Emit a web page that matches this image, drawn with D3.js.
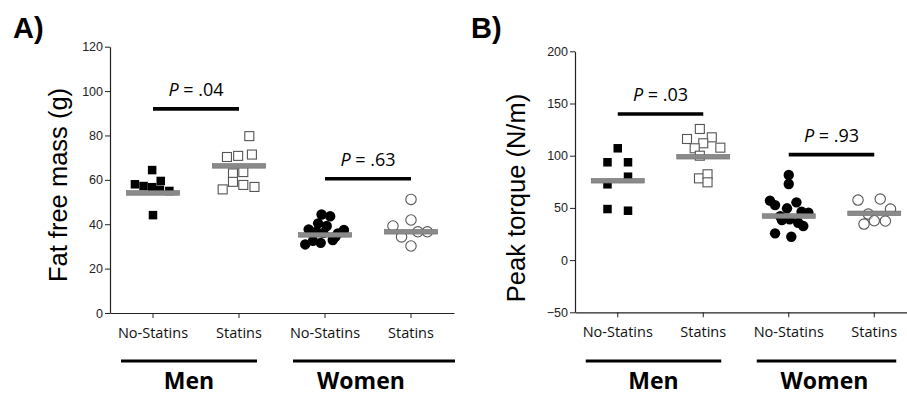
<!DOCTYPE html>
<html>
<head>
<meta charset="utf-8">
<script src="https://cdn.jsdelivr.net/npm/d3@7"></script>
<style>
  body { margin: 0; background: #fff; }
  svg { display: block; }
  .tick-num { font-family: "Liberation Sans", Arial, sans-serif; font-size: 12.5px; fill: #222; }
  .cat { font-family: "Open Sans", sans-serif; font-size: 14.5px; fill: #111; }
  .grp { font-family: "Open Sans", sans-serif; font-size: 23px; font-weight: bold; fill: #000; }
  .ylab { font-family: "Liberation Sans", Arial, sans-serif; font-size: 25.5px; fill: #000; }
  .pval { font-family: "Open Sans", sans-serif; font-size: 18px; fill: #000; }
  .panel { font-family: "Liberation Sans", Arial, sans-serif; font-size: 29px; font-weight: bold; fill: #000; }
</style>
</head>
<body>
<svg id="chart" width="907" height="397"></svg>
<script>
// categories (keys) and their labels
const catKeys = ['menNo', 'menSt', 'womNo', 'womSt'];
const catLabels = ['No-Statins', 'Statins', 'No-Statins', 'Statins'];
const sexGroups = ['Men', 'Women'];

// Panel A: fat free mass (g); each point is [value, jitter as fraction of band]
const ffmMenNo = [[64.4, -0.01], [58.0, -0.21], [57.2, -0.11], [56.7, -0.01], [59.5, 0.09], [55.0, 0.19], [44.1, 0], [55.5, 0.08]];
const ffmMenSt = [[70.3, -0.14], [70.8, -0.01], [71.4, 0.15], [62.9, -0.07], [63.5, 0.05], [59.1, -0.07], [57.7, 0.05], [56.8, 0.18], [55.7, -0.19], [79.7, 0.12]];
const ffmWomNo = [[44.4, -0.04], [43.6, 0.06], [40.4, -0.08], [39.2, 0.02], [37.7, -0.19], [36.6, -0.10], [37.4, 0.22], [35.9, 0.15], [30.9, -0.23], [32.5, -0.14], [31.6, -0.05], [32.9, 0.09], [36.1, -0.02], [34.3, 0.12]];
const ffmWomSt = [[51.2, 0], [41.9, 0], [39.2, -0.21], [34.3, -0.11], [36.6, 0.08], [36.6, 0.19], [30.2, 0]];
const ffmMeans = [54.1, 66.3, 35.2, 36.6];
const ffmPvals = [{ a: 0, b: 1, y: 92, text: '.04' }, { a: 2, b: 3, y: 60.5, text: '.63' }];
const ffmTicks = [0, 20, 40, 60, 80, 100, 120];

// Panel B: peak torque (N/m)
const ptMenNo = [[107.1, 0], [93.7, -0.12], [93.7, 0.12], [79.9, 0.12], [72.6, -0.12], [48.9, -0.12], [47.3, 0.12]];
const ptMenSt = [[125.6, -0.04], [116, -0.19], [117.6, 0.10], [111.9, 0], [107.1, -0.10], [107.7, 0.20], [100, -0.04], [78.3, -0.05], [82.2, 0.05], [74.5, 0.05]];
const ptWomNo = [[81.5, 0], [72.9, 0], [56.9, -0.22], [52.7, -0.16], [55.3, 0.09], [49.6, -0.02], [46.3, 0.15], [45.4, 0.23], [38.4, -0.08], [39.0, 0.01], [35.8, 0.11], [32.6, 0.17], [25.6, -0.16], [22.4, 0.03], [42.0, -0.10]];
const ptWomSt = [[57.5, -0.19], [58.5, 0.07], [48.9, 0.19], [44.1, -0.07], [34.5, -0.12], [37.7, 0], [37.4, 0.13]];
const ptMeans = [76.0, 99.0, 42.2, 44.8];
const ptPvals = [{ a: 0, b: 1, y: 140, text: '.03' }, { a: 2, b: 3, y: 101, text: '.93' }];
const ptTicks = [-50, 0, 50, 100, 150, 200];

const svg = d3.select('#chart');

// marker style per category: filled square, open square, filled circle, open circle
const markers = ['fsq', 'osq', 'fci', 'oci'];

function drawPanel(cfg) {
  const g = svg.append('g');
  const x = d3.scaleBand().domain(catKeys).range([cfg.x0, cfg.x1]).padding(0);
  const cx = k => x(k) + x.bandwidth() / 2;
  const bw = x.bandwidth();
  const y = d3.scaleLinear().domain(cfg.domain).range([cfg.yBottom, cfg.yTop]);

  // y axis with minor ticks
  const yAxis = g.append('g').attr('transform', `translate(${cfg.x0},0)`);
  yAxis.call(d3.axisLeft(y).tickValues(cfg.minor).tickSize(3).tickFormat(''));
  yAxis.call(d3.axisLeft(y).tickValues(cfg.ticks).tickSize(5).tickSizeOuter(0).tickPadding(2));
  yAxis.selectAll('path.domain').attr('stroke', '#222').attr('stroke-width', 1.2);
  yAxis.selectAll('line').attr('stroke', '#222');
  yAxis.selectAll('text').attr('class', 'tick-num').attr('font-size', null).attr('font-family', null);

  // x axis
  const xAxis = g.append('g').attr('transform', `translate(0,${cfg.yBottom})`);
  xAxis.call(d3.axisBottom(x).tickSize(5).tickSizeOuter(0).tickFormat((d, i) => catLabels[i]).tickPadding(6));
  xAxis.selectAll('path.domain').attr('stroke', '#222').attr('stroke-width', 1.2);
  xAxis.selectAll('line').attr('stroke', '#222');
  xAxis.selectAll('text').attr('class', 'cat').attr('font-size', null).attr('font-family', null).attr('dy', '0.95em');

  // sex group underline and label
  sexGroups.forEach((s, i) => {
    const a = cx(catKeys[i * 2]) - 32;
    const b = cx(catKeys[i * 2 + 1]) + cfg.lineExt[i];
    g.append('line').attr('x1', a).attr('x2', b).attr('y1', 361).attr('y2', 361)
      .attr('stroke', '#000').attr('stroke-width', 3.2);
    g.append('text').attr('class', 'grp').attr('x', (cx(catKeys[i * 2]) + cx(catKeys[i * 2 + 1])) / 2 - 7)
      .attr('y', 389).attr('text-anchor', 'middle').text(s);
  });

  // points
  cfg.series.forEach((pts, i) => {
    const k = catKeys[i];
    const m = markers[i];
    const sel = g.append('g').selectAll('.pt').data(pts).enter();
    if (m === 'fsq' || m === 'osq') {
      const s = m === 'fsq' ? 8.5 : 9;
      sel.append('rect')
        .attr('x', d => cx(k) + d[1] * bw - s / 2)
        .attr('y', d => y(d[0]) - s / 2)
        .attr('width', s).attr('height', s)
        .attr('fill', m === 'fsq' ? '#000' : '#fff')
        .attr('stroke', m === 'fsq' ? 'none' : '#555')
        .attr('stroke-width', 1.1);
    } else {
      sel.append('circle')
        .attr('cx', d => cx(k) + d[1] * bw)
        .attr('cy', d => y(d[0]))
        .attr('r', 5.2)
        .attr('fill', m === 'fci' ? '#000' : '#fff')
        .attr('fill-opacity', m === 'fci' ? 1 : 0.6)
        .attr('stroke', m === 'fci' ? 'none' : '#555')
        .attr('stroke-width', 1.1);
    }
  });

  // mean bars
  g.append('g').selectAll('rect').data(cfg.means).enter().append('rect')
    .attr('x', (d, i) => cx(catKeys[i]) - bw * 0.31)
    .attr('y', d => y(d) - 2.3)
    .attr('width', bw * 0.62)
    .attr('height', 4.6)
    .attr('fill', '#8a8a8a')
    .attr('stroke', '#6e6e6e')
    .attr('stroke-width', 0.6);

  // p-value brackets
  cfg.pvals.forEach(p => {
    const a = cx(catKeys[p.a]), b = cx(catKeys[p.b]);
    g.append('line').attr('x1', a).attr('x2', b).attr('y1', y(p.y)).attr('y2', y(p.y))
      .attr('stroke', '#000').attr('stroke-width', 3.6);
    const t = g.append('text').attr('class', 'pval').attr('x', (a + b) / 2).attr('y', y(p.y) - 12.5)
      .attr('text-anchor', 'middle');
    t.append('tspan').attr('font-style', 'italic').text('P');
    t.append('tspan').text(' = ' + p.text);
  });

  // y label
  g.append('text').attr('class', 'ylab')
    .attr('transform', `translate(${cfg.ylabX},${cfg.ylabY}) rotate(-90)`)
    .attr('text-anchor', 'middle').text(cfg.ylab);

  // panel letter
  g.append('text').attr('class', 'panel').attr('x', cfg.letterX).attr('y', 38).text(cfg.letter);
}

drawPanel({
  x0: 110, x1: 454, yBottom: 313, yTop: 46.7, domain: [0, 120],
  ticks: ffmTicks, minor: d3.range(0, 121, 10),
  series: [ffmMenNo, ffmMenSt, ffmWomNo, ffmWomSt], means: ffmMeans, pvals: ffmPvals,
  lineExt: [18, 44], ylab: 'Fat free mass (g)', ylabX: 67, ylabY: 185, letter: 'A)', letterX: 13
});

drawPanel({
  x0: 575, x1: 917, yBottom: 312.3, yTop: 51.3, domain: [-50, 200],
  ticks: ptTicks, minor: d3.range(-50, 201, 25),
  series: [ptMenNo, ptMenSt, ptWomNo, ptWomSt], means: ptMeans, pvals: ptPvals,
  lineExt: [18, 22], ylab: 'Peak torque (N/m)', ylabX: 525, ylabY: 198, letter: 'B)', letterX: 471
});
</script>
</body>
</html>
